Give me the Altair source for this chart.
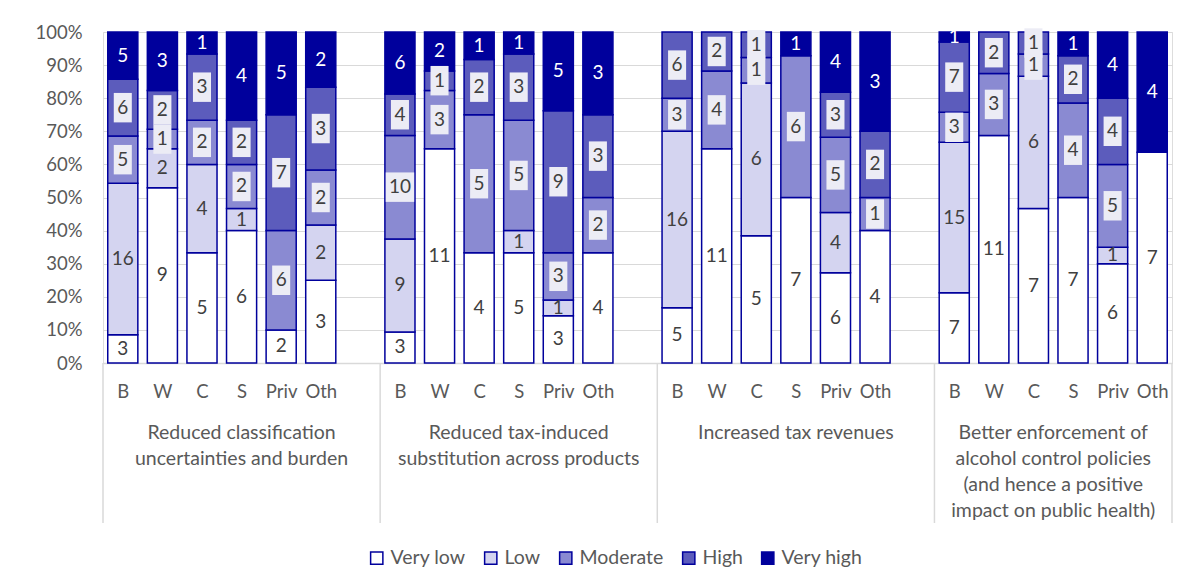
import altair as alt
import pandas as pd

# ---- data ----
levels = ["Very low", "Low", "Moderate", "High", "Very high"]
bars = ["B", "W", "C", "S", "Priv", "Oth"]
groups = [
    "Reduced classification\nuncertainties and burden",
    "Reduced tax-induced\nsubstitution across products",
    "Increased tax revenues",
    "Better enforcement of\nalcohol control policies\n(and hence a positive\nimpact on public health)",
]
# counts per bar: [Very low, Low, Moderate, High, Very high]
g1 = [[3, 16, 5, 6, 5], [9, 2, 1, 2, 3], [5, 4, 2, 3, 1],
      [6, 1, 2, 2, 4], [2, 0, 6, 7, 5], [3, 2, 2, 3, 2]]
g2 = [[3, 9, 10, 4, 6], [11, 0, 3, 1, 2], [4, 0, 5, 2, 1],
      [5, 1, 5, 3, 1], [3, 1, 3, 9, 5], [4, 0, 2, 3, 3]]
g3 = [[5, 16, 3, 6, 0], [11, 0, 4, 2, 0], [5, 6, 1, 1, 0],
      [7, 0, 6, 0, 1], [6, 4, 5, 3, 4], [4, 0, 1, 2, 3]]
g4 = [[7, 15, 3, 7, 1], [11, 0, 3, 2, 0], [7, 6, 1, 1, 0],
      [7, 0, 4, 2, 1], [6, 1, 5, 4, 4], [7, 0, 0, 0, 4]]
all_counts = [g1, g2, g3, g4]
y_ticks = [0, 0.1, 0.2, 0.3, 0.4, 0.5, 0.6, 0.7, 0.8, 0.9, 1.0]

# ---- style ----
FONT = "Lato"
NAVY = "#00009c"
fills = ["#ffffff", "#d4d4f0", "#8a8ad2", "#5c5cbc", NAVY]
W, H = 1069, 331

# ---- build tables ----
rows = []
slot_labels = []
idx = 0
group_centers = []
for gi, gcounts in enumerate(all_counts):
    start = idx
    for bi, counts in enumerate(gcounts):
        total = sum(counts)
        cum = 0
        for li, c in enumerate(counts):
            if c > 0:
                y0 = cum / total
                y1 = (cum + c) / total
                rows.append(dict(
                    idx=idx, x0=idx - 0.38, x1=idx + 0.38,
                    level=levels[li], count=c, y0=y0, y1=y1,
                    mid=(y0 + y1) / 2,
                    tcolor="#ffffff" if li == 4 else "#404040",
                    box=li in (2, 3),
                    shape=("M-0.95,-1.55H0.95V1.55H-0.95Z" if c < 10
                           else "M-1.5,-1.55H1.5V1.55H-1.5Z"),
                ))
            cum += c
        slot_labels.append(bars[bi])
        idx += 1
    end = idx - 1
    if gi < len(all_counts) - 1:
        slot_labels.append("")
        idx += 1
        group_centers.append((start + end + 1) / 2)
    else:
        group_centers.append((start + end) / 2)
n_slots = idx
df = pd.DataFrame(rows)

gdf = pd.DataFrame(dict(xc=group_centers, label=[g.split("\n") for g in groups]))
sep_x = [-0.5]
s = -0.5
for gi in range(len(all_counts)):
    s += 7 if gi < len(all_counts) - 1 else 6
    sep_x.append(s)
sdf = pd.DataFrame(dict(xs=sep_x))

tick_vals = [i for i, l in enumerate(slot_labels) if l]
label_expr = "[" + ",".join("'%s'" % l for l in slot_labels) + "][datum.value]"

xscale = alt.Scale(domain=[-0.5, n_slots - 0.5], nice=False, zero=False)
yscale = alt.Scale(domain=[0, 1], nice=False)

xaxis = alt.Axis(values=tick_vals, labelExpr=label_expr, grid=False, ticks=False,
                 domainColor="#d9d9d9", domainWidth=1.5, labelPadding=19,
                 labelFontSize=18.5, labelColor="#595959", labelFont=FONT,
                 title=None, labelFlush=False, labelOverlap=False)
yaxis = alt.Axis(values=y_ticks, format=".0%", grid=True, gridColor="#d9d9d9",
                 domain=False, ticks=False, labelPadding=21, labelFontSize=18.5,
                 labelColor="#595959", labelFont=FONT, title=None,
                 labelOverlap=False, labelFlush=False)

bars_layer = alt.Chart(df).mark_rect(stroke=NAVY, strokeWidth=1.5).encode(
    x=alt.X("x0:Q", scale=xscale, axis=xaxis),
    x2="x1:Q",
    y=alt.Y("y0:Q", scale=yscale, axis=yaxis),
    y2="y1:Q",
    fill=alt.Fill("level:N", scale=alt.Scale(domain=levels, range=fills),
                  sort=levels,
                  legend=alt.Legend(orient="none", legendX=264, legendY=516,
                                    direction="horizontal", title=None,
                                    symbolType="square", symbolSize=150,
                                    symbolStrokeColor=NAVY, symbolStrokeWidth=1.5,
                                    labelFontSize=19.5, labelColor="#595959",
                                    labelFont=FONT, columnPadding=15,
                                    labelOffset=4)),
)

box_layer = alt.Chart(df).transform_filter("datum.box").mark_point(
    filled=True, fill="#ececf5", opacity=1, strokeWidth=0, size=361
).encode(
    x=alt.X("idx:Q", scale=xscale, axis=xaxis),
    y=alt.Y("mid:Q", scale=yscale, axis=yaxis),
    shape=alt.Shape("shape:N", scale=None, legend=None),
)

text_layer = alt.Chart(df).mark_text(font=FONT, fontSize=19, baseline="middle").encode(
    x=alt.X("idx:Q", scale=xscale, axis=xaxis),
    y=alt.Y("mid:Q", scale=yscale, axis=yaxis),
    text="count:Q",
    color=alt.Color("tcolor:N", scale=None, legend=None),
)

sep_layer = alt.Chart(sdf).mark_rule(color="#d9d9d9", strokeWidth=1.5).encode(
    x=alt.X("xs:Q", scale=xscale, axis=xaxis),
    y=alt.value(H),
    y2=alt.value(H + 160),
)

group_layer = alt.Chart(gdf).mark_text(
    font=FONT, fontSize=19.5, baseline="top", lineHeight=26, color="#595959"
).encode(
    x=alt.X("xc:Q", scale=xscale, axis=xaxis),
    y=alt.value(H + 61),
    text="label",
)

chart = alt.layer(bars_layer, sep_layer, box_layer, text_layer, group_layer).properties(
    width=W, height=H,
    autosize=alt.AutoSizeParams(type="none"),
    padding={"left": 95, "top": 24, "right": 17, "bottom": 215},
).configure_view(stroke=None).configure(background="white")

chart.save("out.html", embed_options={"renderer": "svg", "actions": False})
